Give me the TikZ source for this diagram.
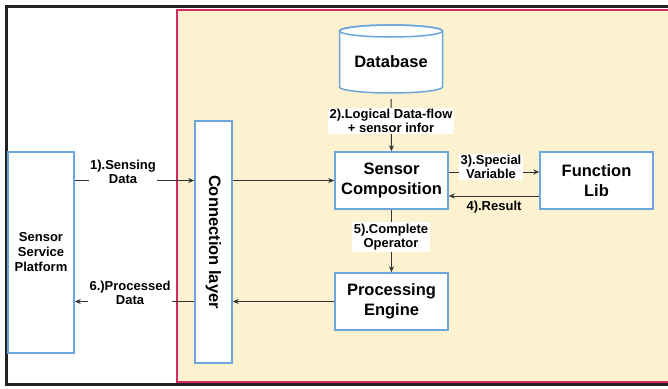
\documentclass[tikz,border=0pt]{standalone}
\usepackage{fontspec}
\setmainfont{Liberation Sans}
\usetikzlibrary{arrows.meta,calc}
\definecolor{frameblack}{HTML}{222222}
\definecolor{zonepink}{HTML}{D82662}
\definecolor{zonecream}{HTML}{FCF2CF}
\definecolor{boxblue}{HTML}{6CA6DC}
\definecolor{wire}{HTML}{333333}
\tikzset{
  block/.style={draw=boxblue, line width=1.5pt, fill=white, inner sep=0pt,
    align=center, font=\fontsize{16.5}{19.5}\selectfont\bfseries},
  tag/.style={inner sep=1.5pt, align=center, font=\fontsize{13}{14}\selectfont\bfseries},
  wtag/.style={tag, fill=white},
  link/.style={draw=wire, line width=1pt, -{Stealth[length=6pt,width=5pt]}}
}
\begin{document}
\begin{tikzpicture}[x=1pt,y=-1pt]
\useasboundingbox (0,0) rectangle (668,388);
\clip (0,0) rectangle (668,388);
% outer frame and shaded processing zone
\draw[frameblack, line width=3pt, fill=white] (6.5,6.5) rectangle (700,384.5);
\draw[zonepink, line width=2pt, fill=zonecream] (177,9.5) rectangle (700,381.5);

% database cylinder
\draw[boxblue, line width=1.5pt, fill=white]
  (339.5,31) -- (339.5,87) arc[start angle=180, end angle=0, x radius=51.5, y radius=6]
  -- (442.5,31) arc[start angle=0, end angle=-180, x radius=51.5, y radius=6] -- cycle;
\draw[boxblue, line width=1.5pt] (391,31) ellipse[x radius=51.5, y radius=6];
\node[inner sep=0pt, minimum width=103pt, minimum height=68pt,
  font=\fontsize{16.5}{19.5}\selectfont\bfseries] (db) at (391,62) {Database};

% boxes
\node[block, minimum width=66pt, minimum height=201pt,
  font=\fontsize{13}{15}\selectfont\bfseries] (ssp) at (41,252.5) {Sensor\\Service\\Platform};
\node[block, minimum width=37pt, minimum height=242pt] (cl) at (213.5,242) {};
\node[rotate=-90, font=\fontsize{16.5}{19.5}\selectfont\bfseries] (cltext) at (cl.center) {Connection layer};
\node[block, minimum width=113pt, minimum height=57pt] (sc) at (391.5,180.5) {Sensor\\Composition};
\node[block, minimum width=113pt, minimum height=57pt] (fl) at (596.5,180.5) {Function\\Lib};
\node[block, minimum width=113pt, minimum height=57pt] (pe) at (391.5,301.5) {Processing\\Engine};

% connectors
\draw[link] ([yshift=-3pt]db.south) -- (sc.north);
\draw[link] (ssp.east |- sc.west) -- (cl.west |- sc.west);
\draw[link] (cl.east |- sc.west) -- (sc.west);
\draw[link] ([yshift=8.5pt]sc.east) -- ([yshift=8.5pt]fl.west);
\draw[link] ([yshift=-15.5pt]fl.west) -- ([yshift=-15.5pt]sc.east);
\draw[link] (sc.south) -- (pe.north);
\draw[link] (pe.west) -- (cl.east |- pe.west);
\draw[link] (cl.west |- pe.west) -- (ssp.east |- pe.west);

% connector labels
\node[wtag] (l2) at (391,121) {2).Logical Data-flow\\+ sensor infor};
\node[wtag] (l1) at (123,172) {1).Sensing\\Data};
\node[wtag] (l3) at (491,167) {3).Special\\Variable};
\node[tag] (l4) at (494,207) {4).Result};
\node[wtag] (l5) at (391,237) {5).Complete\\Operator};
\node[wtag] (l6) at (130,293) {6.)Processed\\Data};
\end{tikzpicture}
\end{document}
